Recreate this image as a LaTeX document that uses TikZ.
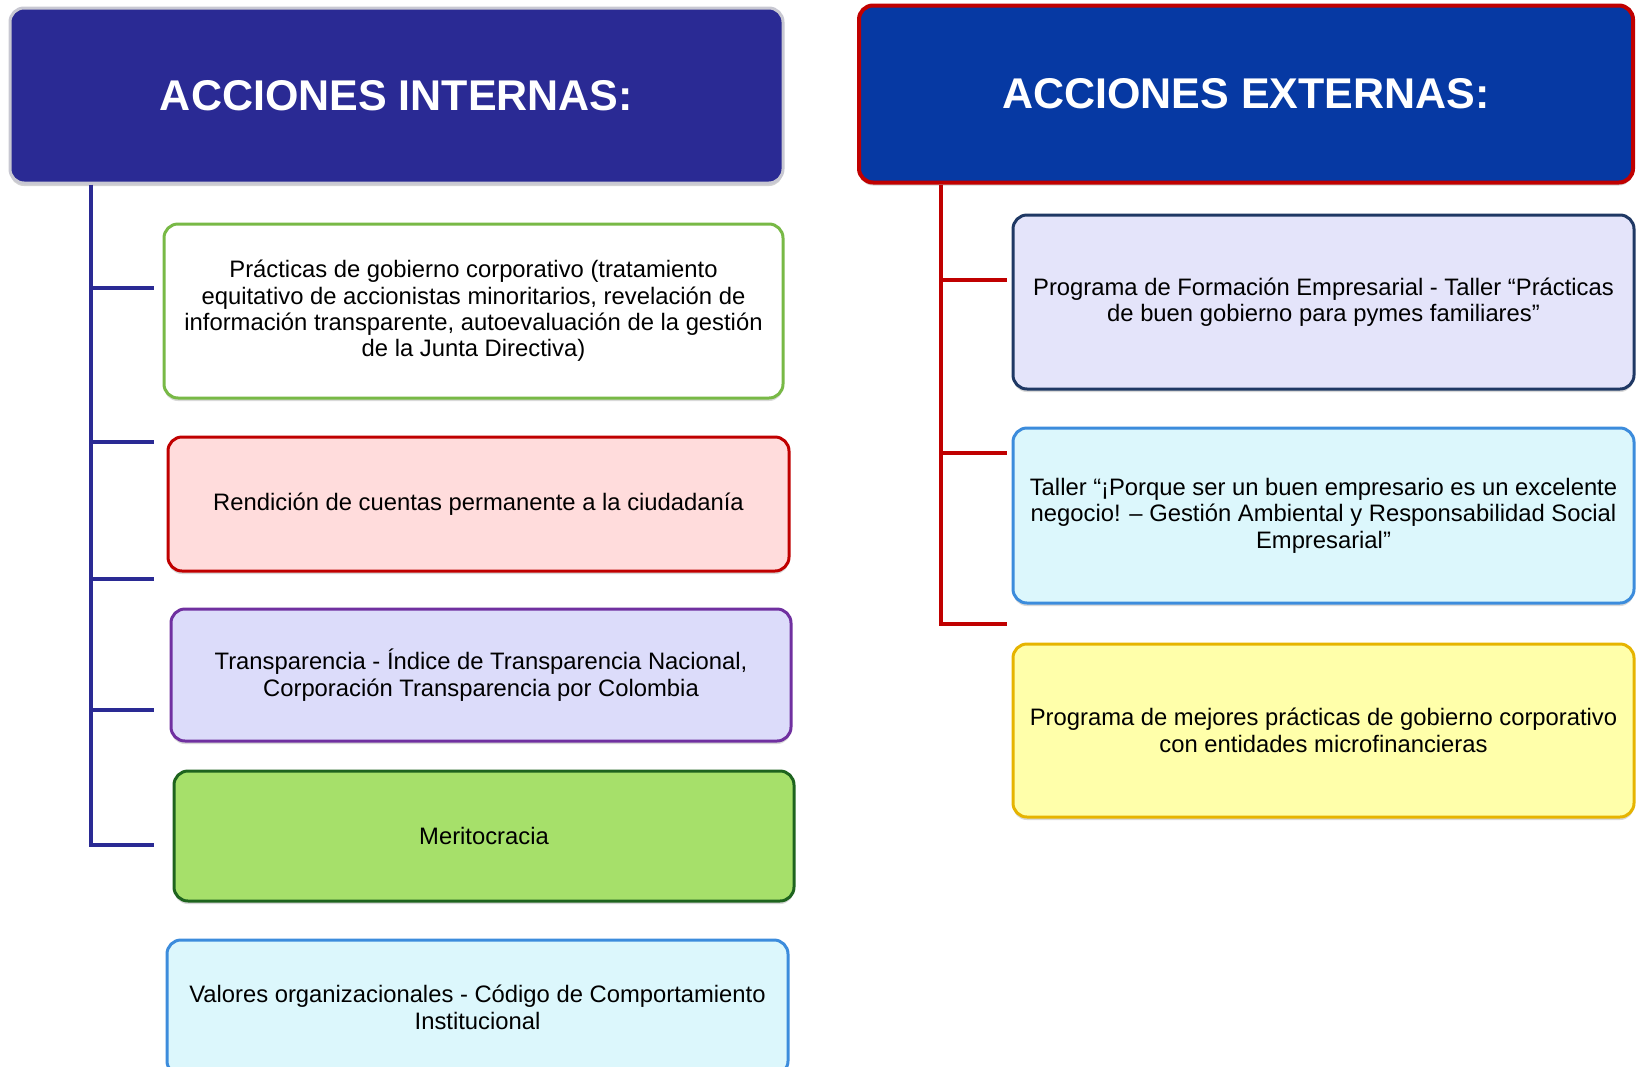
\documentclass[tikz,border=0pt]{standalone}
\usepackage{fontspec}
\setmainfont{Liberation Sans}
\usetikzlibrary{positioning,shadows}

\definecolor{azulint}{RGB}{42,42,148}
\definecolor{azulext}{RGB}{6,57,163}
\definecolor{rojoext}{RGB}{192,0,0}
\definecolor{plata}{RGB}{200,200,210}
\definecolor{verdeborde}{RGB}{120,185,70}
\definecolor{rosa}{RGB}{255,220,220}
\definecolor{lila}{RGB}{220,220,250}
\definecolor{morado}{RGB}{112,48,160}
\definecolor{verdeclaro}{RGB}{166,224,106}
\definecolor{verdeosc}{RGB}{30,100,30}
\definecolor{celeste}{RGB}{220,247,252}
\definecolor{azulborde}{RGB}{60,140,220}
\definecolor{lavanda}{RGB}{228,228,250}
\definecolor{marino}{RGB}{31,56,100}
\definecolor{amarillo}{RGB}{255,255,170}
\definecolor{oro}{RGB}{230,180,0}

\tikzset{
  cabecera/.style={
    rectangle,
    rounded corners=14pt,
    line width=3pt,
    text=white,
    font=\fontsize{43}{50}\selectfont\bfseries,
    drop shadow={opacity=0.35,shadow xshift=0pt,shadow yshift=-3pt}},
  caja/.style={
    rectangle,
    rounded corners=14pt,
    line width=3pt,
    align=center,
    inner xsep=2pt,
    font=\fontsize{23.8}{26.4}\selectfont,
    drop shadow={opacity=0.3,shadow xshift=0pt,shadow yshift=-3pt}},
  ramaint/.style={draw=azulint, line width=4pt},
  ramaext/.style={draw=rojoext, line width=4pt},
}

\begin{document}
\begin{tikzpicture}[x=1pt,y=-1pt]

    \useasboundingbox (0,0) rectangle (1636,1066);
    \clip (0,0) rectangle (1636,1066);

    % cabeceras
    \node[cabecera, fill=azulint, draw=plata, minimum width=773pt, minimum height=175pt]
        (hint) at (396.5,95.5) {ACCIONES INTERNAS:};
    \node[cabecera, fill=azulext, draw=rojoext, line width=4pt, minimum width=774pt, minimum height=177pt]
        (hext) at (1246,94) {ACCIONES EXTERNAS:};

    % acciones internas
    \node[caja, fill=white, draw=verdeborde, minimum width=619pt, minimum height=174pt]
        (int1) at (473.5,311) {Prácticas de gobierno corporativo (tratamiento\\
        equitativo de accionistas minoritarios, revelación de\\
        información transparente, autoevaluación de la gestión\\
        de la Junta Directiva)};
    \node[caja, fill=rosa, draw=rojoext, minimum width=621pt, minimum height=134pt]
        (int2) at (478.5,504) {Rendición de cuentas permanente a la ciudadanía};
    \node[caja, fill=lila, draw=morado, minimum width=620pt, minimum height=132pt]
        (int3) at (481,675) {Transparencia - Índice de Transparencia Nacional,\\
        Corporación Transparencia por Colombia};
    \node[caja, fill=verdeclaro, draw=verdeosc, minimum width=620pt, minimum height=130pt]
        (int4) at (484,836) {Meritocracia};
    \node[caja, fill=celeste, draw=azulborde, minimum width=621pt, minimum height=135pt]
        (int5) at (477.5,1007.5) {Valores organizacionales - Código de Comportamiento\\
        Institucional};

    % acciones externas
    \node[caja, fill=lavanda, draw=marino, minimum width=621pt, minimum height=174pt]
        (ext1) at (1323.5,302) {Programa de Formación Empresarial - Taller “Prácticas\\
        de buen gobierno para pymes familiares”};
    \node[caja, fill=celeste, draw=azulborde, minimum width=621pt, minimum height=175pt]
        (ext2) at (1323.5,515.5) {Taller “¡Porque ser un buen empresario es un excelente\\
        negocio! – Gestión Ambiental y Responsabilidad Social\\
        Empresarial”};
    \node[caja, fill=amarillo, draw=oro, minimum width=621pt, minimum height=173pt]
        (ext3) at (1323.5,730.5) {Programa de mejores prácticas de gobierno corporativo\\
        con entidades microfinancieras};

    % arbol interno
    \foreach \y [count=\i] in {288,442,579,710,845}
        \coordinate (ri\i) at (154,\y);
    \coordinate (ti) at (91,845);
    \draw[ramaint] (hint.south -| ti) -- (ti) -- (ri5);
    \foreach \i in {1,...,4}
        \draw[ramaint] (ri\i -| ti) -- (ri\i);

    % arbol externo
    \foreach \y [count=\i] in {280,453,624}
        \coordinate (re\i) at (1007,\y);
    \coordinate (te) at (941,624);
    \draw[ramaext] (hext.south -| te) -- (te) -- (re3);
    \foreach \i in {1,2}
        \draw[ramaext] (re\i -| te) -- (re\i);

\end{tikzpicture}
\end{document}
